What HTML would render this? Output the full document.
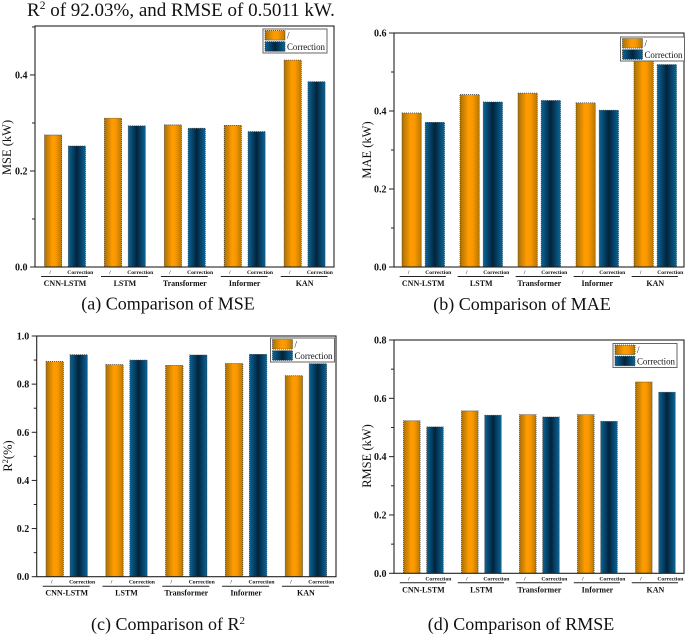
<!DOCTYPE html>
<html>
<head>
<meta charset="utf-8">
<style>
html,body{margin:0;padding:0;background:#fff;width:685px;height:634px;overflow:hidden}
svg{display:block}
text{font-family:"Liberation Serif",serif;fill:#111}
</style>
</head>
<body>
<svg id="figure" xmlns="http://www.w3.org/2000/svg" width="685" height="634" viewBox="0 0 685 634">
<defs>
<linearGradient id="orangeGrad" x1="0" x2="1" y1="0" y2="0">
<stop offset="0" stop-color="#a87008"/><stop offset="0.45" stop-color="#ff9c00"/><stop offset="0.65" stop-color="#fb9800"/><stop offset="1" stop-color="#b87800"/>
</linearGradient>
<linearGradient id="blueGrad" x1="0" x2="1" y1="0" y2="0">
<stop offset="0" stop-color="#0a6597"/><stop offset="0.5" stop-color="#02233c"/><stop offset="1" stop-color="#0a6597"/>
</linearGradient>
</defs>
<text x="27" y="16" font-size="19">R<tspan dy="-7" font-size="11.5">2</tspan><tspan dy="7"> of 92.03%, and RMSE of 0.5011 kW.</tspan></text>
</svg>
<script>
// Chart data
const categories = ["CNN-LSTM", "LSTM", "Transformer", "Informer", "KAN"];
const seriesLabels = ["/", "Correction"];
const mseOriginal = [0.275, 0.31, 0.296, 0.295, 0.431];
const mseCorrection = [0.252, 0.294, 0.289, 0.282, 0.386];
const maeOriginal = [0.395, 0.442, 0.446, 0.421, 0.54];
const maeCorrection = [0.371, 0.423, 0.427, 0.402, 0.519];
const r2Original = [0.894, 0.881, 0.878, 0.886, 0.835];
const r2Correction = [0.922, 0.90, 0.921, 0.924, 0.885];
const rmseOriginal = [0.523, 0.557, 0.544, 0.544, 0.656];
const rmseCorrection = [0.502, 0.542, 0.536, 0.521, 0.621];
const mseTicks = ["0.0", "0.2", "0.4"];
const maeTicks = ["0.0", "0.2", "0.4", "0.6"];
const r2Ticks = ["0.0", "0.2", "0.4", "0.6", "0.8", "1.0"];
const rmseTicks = ["0.0", "0.2", "0.4", "0.6", "0.8"];

const NS = "http://www.w3.org/2000/svg";
const svg = document.getElementById("figure");
function mk(tag, attrs, parent, txt) {
  const el = document.createElementNS(NS, tag);
  for (const k in attrs) el.setAttribute(k, attrs[k]);
  if (txt !== undefined) el.textContent = txt;
  (parent || svg).appendChild(el);
  return el;
}

function drawPanel(p) {
  const g = mk("g", {});
  
  
  const y = v => p.bottom - (v / p.yMax) * (p.bottom - p.top);
  const groupX = i => p.firstBar + i * p.step;

  // bars
  [p.original, p.correction].forEach((vals, s) => {
    vals.forEach((v, i) => {
      const x = groupX(i) + s * p.barGap;
      const r = mk("rect", {
        x: x, y: y(v), width: p.barW, height: p.bottom - y(v),
        fill: s === 0 ? "url(#orangeGrad)" : "url(#blueGrad)",
        stroke: "#333", "stroke-width": 0.7, "stroke-dasharray": "1 1"
      }, g);
      
      
    });
  });

  // frame
  const frame = mk("rect", {x: p.left, y: p.top, width: p.right - p.left, height: p.bottom - p.top, fill: "none", stroke: "#222", "stroke-width": 1.1}, g);
  
  

  // y ticks
  p.ticks.forEach((t, i) => {
    const v = parseFloat(t);
    mk("line", {x1: p.left - 5, x2: p.left, y1: y(v), y2: y(v), stroke: "#222", "stroke-width": 1}, g);
    const lab = mk("text", {x: p.left - 7.5, y: y(v) + 3.5, "text-anchor": "end", "font-size": 10, "font-weight": "bold"}, g, t);
    
    
    if (i < p.ticks.length - 1) {
      const mid = (v + parseFloat(p.ticks[i + 1])) / 2;
      mk("line", {x1: p.left - 3, x2: p.left, y1: y(mid), y2: y(mid), stroke: "#222", "stroke-width": 1}, g);
    }
  });
  if (p.yMax > parseFloat(p.ticks[p.ticks.length - 1]) + 0.01) {
    const mid = parseFloat(p.ticks[p.ticks.length - 1]) + 0.1;
    mk("line", {x1: p.left - 3, x2: p.left, y1: y(mid), y2: y(mid), stroke: "#222", "stroke-width": 1}, g);
  }

  // category labels
  categories.forEach((c, i) => {
    const x0 = groupX(i);
    const c1 = x0 + p.barW / 2, c2 = x0 + p.barGap + p.barW / 2;
    seriesLabels.forEach((s, k) => {
      const sub = mk("text", {x: k === 0 ? c1 - 3 : c2 + 3.4, y: p.bottom + 7, "text-anchor": "middle", "font-size": 5.6, "font-weight": "bold"}, g, s);
      
      
    });
    const ln = mk("line", {x1: c1 - 12, x2: c2 + 11, y1: p.bottom + 9.5, y2: p.bottom + 9.5, stroke: "#222", "stroke-width": 1}, g);
    
    
    const cat = mk("text", {x: (c1 + c2) / 2, y: p.bottom + 19, "text-anchor": "middle", "font-size": 8, "font-weight": "bold"}, g, c);
    
    
  });

  // y title
  const yt = mk("text", {x: p.titleX, y: p.titleY, transform: "rotate(-90 " + p.titleX + " " + p.titleY + ")", "text-anchor": "middle", "font-size": 12.5}, g);
  
  
  if (p.key === "r2") {
    mk("tspan", {}, yt, "R");
    mk("tspan", {dy: -4, "font-size": 8.5}, yt, "2");
    mk("tspan", {dy: 4}, yt, "(%)");
  } else {
    yt.textContent = p.yTitle;
  }

  // legend
  const lg = mk("g", {}, g);
  
  
  mk("rect", {x: p.lx, y: p.ly, width: 64, height: 24, fill: "#fff", stroke: "#666", "stroke-width": 1}, lg);
  seriesLabels.forEach((s, k) => {
    const yy = p.ly + 1.5 + k * 11.2;
    mk("rect", {x: p.lx + 2, y: yy, width: 20, height: 9.6, fill: k === 0 ? "url(#orangeGrad)" : "url(#blueGrad)", stroke: "#333", "stroke-width": 0.8, "stroke-dasharray": "1 1"}, lg);
    const tx = mk("text", {x: p.lx + 24, y: yy + 8.2, "font-size": 8.9}, lg, s);
    
    
  });

  // caption
  const cap = mk("text", {x: p.capX, y: p.capY, "text-anchor": "middle", "font-size": 18}, g);
  
  
  if (p.key === "r2") {
    mk("tspan", {}, cap, "(c) Comparison of R");
    mk("tspan", {dy: -6, "font-size": 11}, cap, "2");
  } else {
    cap.textContent = p.caption;
  }
}

drawPanel({key: "mse", original: mseOriginal, correction: mseCorrection, ticks: mseTicks, yMax: 0.502,
  left: 35, right: 334, top: 26, bottom: 267, firstBar: 44.5, step: 59.9, barW: 17.2, barGap: 23.8,
  yTitle: "MSE (kW)", titleX: 11, titleY: 147.5, lx: 263, ly: 29, capX: 168, capY: 309.5, caption: "(a) Comparison of MSE"});
drawPanel({key: "mae", original: maeOriginal, correction: maeCorrection, ticks: maeTicks, yMax: 0.6,
  left: 394, right: 684, top: 33, bottom: 267, firstBar: 402, step: 58, barW: 19.3, barGap: 23.2,
  yTitle: "MAE (kW)", titleX: 371, titleY: 150, lx: 620.5, ly: 37, capX: 522, capY: 310, caption: "(b) Comparison of MAE"});
drawPanel({key: "r2", original: r2Original, correction: r2Correction, ticks: r2Ticks, yMax: 1.0,
  left: 36.7, right: 336, top: 336, bottom: 576.7, firstBar: 46, step: 59.8, barW: 17.4, barGap: 24,
  yTitle: "R2(%)", titleX: 12, titleY: 456, lx: 270.5, ly: 338, capX: 168, capY: 630, caption: ""});
drawPanel({key: "rmse", original: rmseOriginal, correction: rmseCorrection, ticks: rmseTicks, yMax: 0.8,
  left: 394, right: 684, top: 340, bottom: 573.3, firstBar: 403.5, step: 58, barW: 16.6, barGap: 23.2,
  yTitle: "RMSE (kW)", titleX: 371, titleY: 456, lx: 613, ly: 343.5, capX: 521, capY: 630, caption: "(d) Comparison of RMSE"});
</script>
</body>
</html>
